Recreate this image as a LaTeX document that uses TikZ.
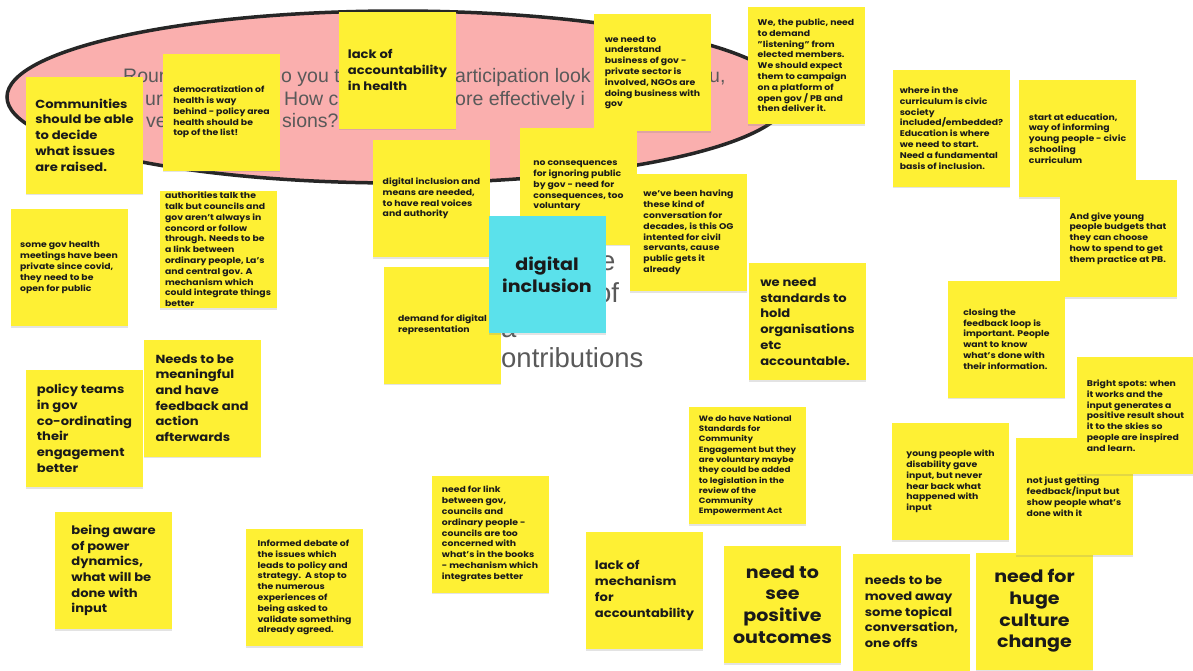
\documentclass[tikz,border=0pt]{standalone}
\usepackage{fontspec}
\setmainfont{Poppins}[FakeStretch=1.12]
\newfontfamily\boardfont{Liberation Sans}
\usetikzlibrary{                          % TikZ libraries
                shapes,                   % .
                shadows,                  % .
                calc}
\usepackage{xcolor}
\definecolor{noteyellow}{HTML}{FEF034}
\definecolor{notecyan}{HTML}{5BE1EB}
\definecolor{bubblepink}{HTML}{FAAFAE}
\definecolor{inktext}{HTML}{1A1A1A}
\definecolor{promptgray}{HTML}{595959}

\begin{document}
\begin{tikzpicture}[x=1pt,y=-1pt
                    ]
                % define styles
\tikzset{note/.style={rectangle,
                      fill=noteyellow,
                      inner sep=0,
                      minimum width=117pt,
                      minimum height=117pt,
                      align=left,
                      text=inktext,
                      drop shadow={shadow xshift=0pt,shadow yshift=-1.5pt,opacity=0.22},
                      },
         note-s/.style={note,
                      font=\bfseries\fontsize{8.3}{10.8}\selectfont,
                      },
         note-xs/.style={note,
                      font=\bfseries\fontsize{7.8}{10.3}\selectfont,
                      },
         note-m/.style={note,
                      font=\bfseries\fontsize{11.7}{15.7}\selectfont,
                      },
         note-l/.style={note,
                      align=center,
                      font=\bfseries\fontsize{17}{21.6}\selectfont,
                      },
         prompt/.style={anchor=base west,
                      inner sep=0,
                      text=promptgray,
                      font=\boardfont\fontsize{19.5}{23}\selectfont,
                      },
         prompt-l/.style={prompt,
                      font=\boardfont\fontsize{27.5}{32}\selectfont,
                      }
}

\useasboundingbox (0,0) rectangle (1193,670);

% bubble
\draw[fill=bubblepink,draw=black!85,line width=3.5pt] (398,97) ellipse [x radius=391, y radius=86];

% prompt text behind the notes
\foreach \name/\x/\y/\txt in {rd1/123/82/Round, rd2/281/82/o you t, rd3/455/82/articipation look, rd4/709/82/{u,},
                              rd5/145/105/ur, rd6/284/105/How c, rd7/455/105/ore effectively i,
                              rd8/146/127/ve, rd9/282/127/sions?}
    \node[prompt] (\name) at (\x,\y) {\txt};

\foreach \name/\x/\y/\txt in {sh1/600/270/e, sh2/596/302/of, sh3/501/337/a, sh4/501/367/ontributions}
    \node[prompt-l] (\name) at (\x,\y) {\txt};

% notes
\node[note-m]  (comm)      at (84.5,135)   {Communities\\should be able\\to decide\\what issues\\are raised.};
\node[note-s]  (democ)     at (221.5,112)  {democratization of\\health is way\\behind - policy area\\health should be\\top of the list!};
\node[note-m]  (acch)      at (397.5,70)   {lack of\\accountability\\in health};
\node[note-s]  (biz)       at (652.5,72.5) {we need to\\understand\\business of gov -\\private sector is\\involved, NGOs are\\doing business with\\gov};
\node[note-s]  (public)    at (806,65.5)   {We, the public, need\\to demand\\"listening" from\\elected members.\\We should expect\\them to campaign\\on a platform of\\open gov / PB and\\then deliver it.};
\node[note-s]  (curric)    at (951.5,128)  {where in the\\curriculum is civic\\society\\included/embedded?\\Education is where\\we need to start.\\Need a fundamental\\basis of inclusion.};
\node[note-s]  (educ)      at (1077.5,138.5) {start at education,\\way of informing\\young people - civic\\schooling\\curriculum};
\node[note-s]  (budgets)   at (1118,238.5) {And give young\\people budgets that\\they can choose\\how to spend to get\\them practice at PB.};
\node[note-s]  (diginc)    at (431.5,198.5) {digital inclusion and\\means are needed,\\to have real voices\\and authority};
\node[note-s]  (conseq)    at (578.5,186)  {no consequences\\for ignoring public\\by gov - need for\\consequences, too\\voluntary};
\node[note-s]  (decades)   at (688.5,232.5) {we've been having\\these kind of\\conversation for\\decades, is this OG\\intented for civil\\servants, cause\\public gets it\\already};
\node[note-s]  (covid)     at (69,267.5)   {some gov health\\meetings have been\\private since covid,\\they need to be\\open for public};
\node[note-s]  (authz)     at (218,249.5)  {authorities talk the\\talk but councils and\\gov aren't always in\\concord or follow\\through. Needs to be\\a link between\\ordinary people, La's\\and central gov. A\\mechanism which\\could integrate things\\better};
\node[note-s]  (demand)    at (442.5,325)  {demand for digital\\representation};
\node[note-l,fill=notecyan] (dincl) at (547,274.5) {digital\\inclusion};
\node[note-m]  (standards) at (807.5,321.5) {we need\\standards to\\hold\\organisations\\etc\\accountable.};
\node[note-m]  (policy)    at (84.5,428.5) {policy teams\\in gov\\co-ordinating\\their\\engagement\\better};
\node[note-m]  (meaning)   at (202,398)    {Needs to be\\meaningful\\and have\\feedback and\\action\\afterwards};
\node[note-m]  (power)     at (113.5,570.5) {being aware\\of power\\dynamics,\\what will be\\done with\\input};
\node[note-s]  (debate)    at (304.5,587.5) {Informed debate of\\the issues which\\leads to policy and\\strategy.\ \ A stop to\\the numerous\\experiences of\\being asked to\\validate something\\already agreed.};
\node[note-s]  (link)      at (490,534)    {need for link\\between gov,\\councils and\\ordinary people -\\councils are too\\concerned with\\what's in the books\\- mechanism which\\integrates better};
\node[note-xs] (natstd)    at (747.5,465.5) {We do have National\\Standards for\\Community\\Engagement but they\\are voluntary maybe\\they could be added\\to legislation in the\\review of the\\Community\\Empowerment Act};
\node[note-m]  (mech)      at (644.5,590.5) {lack of\\mechanism\\for\\accountability};
\node[note-l]  (posout)    at (782.5,604.5) {need to\\see\\positive\\outcomes};
\node[note-m]  (topical)   at (911.5,612)  {needs to be\\moved away\\some topical\\conversation,\\one offs};
\node[note-l]  (culture)   at (1034.5,611) {need for\\huge\\culture\\change};
\node[note-s]  (loop)      at (1006.5,339) {closing the\\feedback loop is\\important. People\\want to know\\what's done with\\their information.};
\node[note-s]  (disab)     at (950.5,481.5) {young people with\\disability gave\\input, but never\\hear back what\\happened with\\input};
\node[note-s]  (feedback)  at (1074,496.5) {not just getting\\feedback/input but\\show people what's\\done with it};
\node[note-s]  (bright)    at (1135.5,415.5) {Bright spots: when\\it works and the\\input generates a\\positive result shout\\it to the skies so\\people are inspired\\and learn.};

\end{tikzpicture}
\end{document}
